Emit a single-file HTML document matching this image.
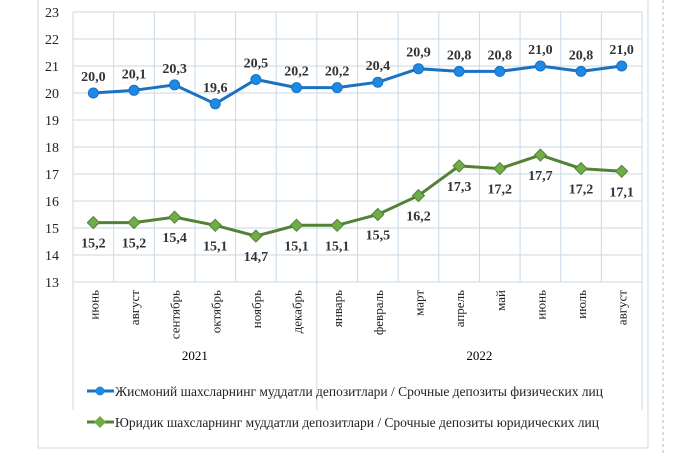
<!DOCTYPE html>
<html><head><meta charset="utf-8"><style>
html,body{margin:0;padding:0;background:#fff;width:680px;height:453px;overflow:hidden}
svg{display:block;font-family:"Liberation Serif",serif}
</style></head><body>
<svg id="s" width="680" height="453" xmlns="http://www.w3.org/2000/svg"></svg>
<script>
const s=document.getElementById('s');
let h='';
const L=73,R=642,T=12,B=282,n=14,cw=(R-L)/n;
const y=v=>T+(23-v)*(B-T)/10;
const x=i=>L+cw*(i+0.5);
h+=`<line x1="38" y1="0" x2="38" y2="448" stroke="#c9d9e6"/><line x1="38" y1="448" x2="648" y2="448" stroke="#c9d9e6"/><line x1="648" y1="0" x2="648" y2="448" stroke="#c9d9e6"/>`;
h+=`<line x1="663" y1="0" x2="663" y2="453" stroke="#9fbfd6" stroke-dasharray="3,3"/>`;
for(let v=13;v<=23;v++){h+=`<line x1="${L}" y1="${y(v)}" x2="${R}" y2="${y(v)}" stroke="#c9d9e6"/>`;
h+=`<text x="${L-14}" y="${y(v)+5}" font-size="14" text-anchor="end" fill="#222">${v}</text>`;}
for(let i=0;i<=n;i++){const xx=L+cw*i;h+=`<line x1="${xx}" y1="${T}" x2="${xx}" y2="${(i==0||i==6||i==14)?410:B}" stroke="#c9d9e6"/>`;}
const m=['июнь','август','сентябрь','октябрь','ноябрь','декабрь','январь','февраль','март','апрель','май','июнь','июль','август'];
m.forEach((t,i)=>{h+=`<text transform="translate(${x(i)+5},290) rotate(-90)" font-size="13" text-anchor="end" fill="#222">${t}</text>`;});
h+=`<text x="${L+cw*3}" y="360" font-size="13" text-anchor="middle">2021</text><text x="${L+cw*10}" y="360" font-size="13" text-anchor="middle">2022</text>`;
const b=[20.0,20.1,20.3,19.6,20.5,20.2,20.2,20.4,20.9,20.8,20.8,21.0,20.8,21.0];
const g=[15.2,15.2,15.4,15.1,14.7,15.1,15.1,15.5,16.2,17.3,17.2,17.7,17.2,17.1];
const f=v=>v.toFixed(1).replace('.',',');
h+=`<polyline fill="none" stroke="#538135" stroke-width="3" points="${g.map((v,i)=>x(i)+','+y(v)).join(' ')}"/>`;
h+=`<polyline fill="none" stroke="#1a72c0" stroke-width="3" points="${b.map((v,i)=>x(i)+','+y(v)).join(' ')}"/>`;
g.forEach((v,i)=>{const X=x(i),Y=y(v);h+=`<polygon points="${X},${Y-6} ${X+6},${Y} ${X},${Y+6} ${X-6},${Y}" fill="#70ad47" stroke="#538135"/>`;
h+=`<text x="${X}" y="${Y+25}" font-size="14" font-weight="bold" text-anchor="middle" fill="#333">${f(v)}</text>`;});
b.forEach((v,i)=>{const X=x(i),Y=y(v);h+=`<circle cx="${X}" cy="${Y}" r="5" fill="#1e88e5" stroke="#1a72c0"/>`;
h+=`<text x="${X}" y="${Y-12}" font-size="14" font-weight="bold" text-anchor="middle" fill="#333">${f(v)}</text>`;});
h+=`<line x1="87" y1="391" x2="114" y2="391" stroke="#1a72c0" stroke-width="3"/><circle cx="100" cy="391" r="4.5" fill="#1e88e5"/>`;
h+=`<text x="115" y="396" font-size="13.5" fill="#222" textLength="488">Жисмоний шахсларнинг  муддатли  депозитлари / Срочные депозиты  физических  лиц</text>`;
h+=`<line x1="87" y1="422" x2="114" y2="422" stroke="#538135" stroke-width="3"/><polygon points="100,416 106,422 100,428 94,422" fill="#70ad47"/>`;
h+=`<text x="115" y="427" font-size="13.5" fill="#222" textLength="484">Юридик шахсларнинг  муддатли  депозитлари / Срочные депозиты юридических  лиц</text>`;
s.innerHTML=h;
</script>
</body></html>
